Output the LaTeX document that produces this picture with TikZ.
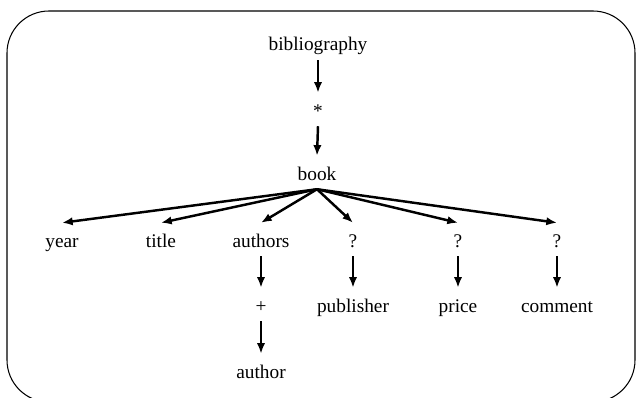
\documentclass[tikz,border=0pt]{standalone}
\usepackage{fontspec}
\setmainfont{Liberation Serif}
\usetikzlibrary{arrows.meta}

\begin{document}
\begin{tikzpicture}[
    x=1cm,y=1cm,
    >=Latex,
    label/.style={
        anchor=base,
        inner sep=0pt,
        text height=0.72cm,
        text depth=0.27cm,
        font=\fontsize{16.5}{19}\selectfont
    },
    flow/.style={->, line width=2.1pt, draw=black,
        >={Latex[length=0.32cm,width=0.25cm]}},
    frame/.style={draw=black, line width=0.9pt, rounded corners=1.26cm}
]

\useasboundingbox (0,0) rectangle (19.08,11.91);

% -----------------------------------------------------------------------------
% Outer frame
% -----------------------------------------------------------------------------
\draw[frame] (0.21,-0.15) rectangle (19.05,11.58);

% -----------------------------------------------------------------------------
% Root chain
% -----------------------------------------------------------------------------
\node[label] (bib) at (9.54,10.38) {bibliography};
\node[label] (star) at (9.54,8.40) {*};
\node[label] (book) at (9.51,6.51) {book};

\draw[flow] (bib.south) -- (star.north);
\draw[flow] (star.south) -- (book.north);

% -----------------------------------------------------------------------------
% Children of book
% -----------------------------------------------------------------------------
\node[label] (year) at (1.86,4.50) {year};
\node[label] (title) at (4.83,4.50) {title};
\node[label] (authors) at (7.83,4.50) {authors};
\node[label] (optpub) at (10.59,4.50) {?};
\node[label] (optprice) at (13.74,4.50) {?};
\node[label] (optcomment) at (16.71,4.50) {?};

\foreach \child in {year,title,authors,optpub,optprice,optcomment} {
    \draw[flow] (book.south) -- (\child.north);
}

% -----------------------------------------------------------------------------
% Second level
% -----------------------------------------------------------------------------
\node[label] (plus) at (7.83,2.55) {+};
\node[label] (publisher) at (10.59,2.55) {publisher};
\node[label] (price) at (13.74,2.55) {price};
\node[label] (comment) at (16.71,2.55) {comment};
\node[label] (author) at (7.83,0.57) {author};

\draw[flow] (authors.south) -- (plus.north);
\draw[flow] (plus.south) -- (author.north);
\draw[flow] (optpub.south) -- (publisher.north);
\draw[flow] (optprice.south) -- (price.north);
\draw[flow] (optcomment.south) -- (comment.north);

\end{tikzpicture}
\end{document}
